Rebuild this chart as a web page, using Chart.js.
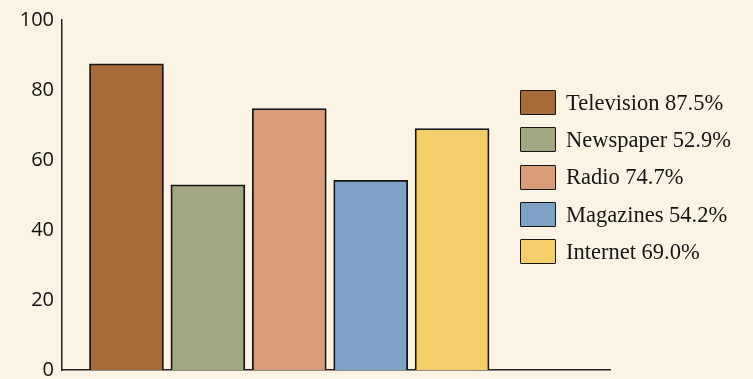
<!DOCTYPE html>
<html><head><meta charset="utf-8">
<script src="https://cdn.jsdelivr.net/npm/chart.js@4"></script>
<style>
html,body{margin:0;padding:0;background:#fbf4e4;}
#wrap{position:relative;width:753px;height:379px;background:#fbf4e4;}
canvas{position:absolute;left:0;top:0;}
#legend{position:absolute;left:520px;top:84px;font-family:"Liberation Serif","DejaVu Serif",serif;font-size:22.5px;color:#151515;}
.item{display:flex;align-items:center;height:37.3px;}
.sw{width:36px;height:25px;border:1.5px solid #151515;box-sizing:border-box;margin-right:10px;border-radius:1px;}
</style></head>
<body><div id="wrap"><canvas id="c" width="753" height="379"></canvas><div id="legend"></div></div>
<script>
const categories = ["Television","Newspaper","Radio","Magazines","Internet"];
const values = [87.5, 52.9, 74.7, 54.2, 69.0];
const colors = ["#a66b38","#a3a780","#d99c78","#7ea2c6","#f5cd69"];
const yTicks = [0,20,40,60,80,100];

const leg = document.getElementById('legend');
categories.forEach((c,i)=>{
  const d=document.createElement('div');d.className='item';
  d.innerHTML='<span class="sw" style="background:'+colors[i]+'"></span><span>'+c+' '+values[i].toFixed(1)+'%</span>';
  leg.appendChild(d);
});

new Chart(document.getElementById('c'),{
  type:'bar',
  data:{datasets:[{
    data: values.map((v,i)=>({x:i,y:v})),
    backgroundColor: colors,
    borderColor:'#151515',
    borderWidth:1.8,
    barThickness:74
  }]},
  options:{
    responsive:false,animation:false,
    layout:{padding:{top:20,bottom:9,left:0,right:143}},
    plugins:{legend:{display:false},tooltip:{enabled:false}},
    scales:{
      x:{type:'linear',min:-0.792,max:5.94,offset:false,
        afterFit:s=>{s.height=0;s.paddingLeft=0;s.paddingRight=0;},
        ticks:{display:false},grid:{display:false,drawTicks:false},
        border:{display:true,color:'#222',width:1.5}},
      y:{min:0,max:100,
        afterBuildTicks:s=>{s.ticks=yTicks.map(v=>({value:v}));},
        afterFit:s=>{s.width=62;s.paddingTop=0;s.paddingBottom=0;},
        ticks:{color:'#111',padding:8,font:{family:'"Open Sans","Noto Sans",sans-serif',size:20}},
        grid:{display:false,drawTicks:false},
        border:{display:true,color:'#222',width:1.5}}
    }
  }
});
</script></body></html>
